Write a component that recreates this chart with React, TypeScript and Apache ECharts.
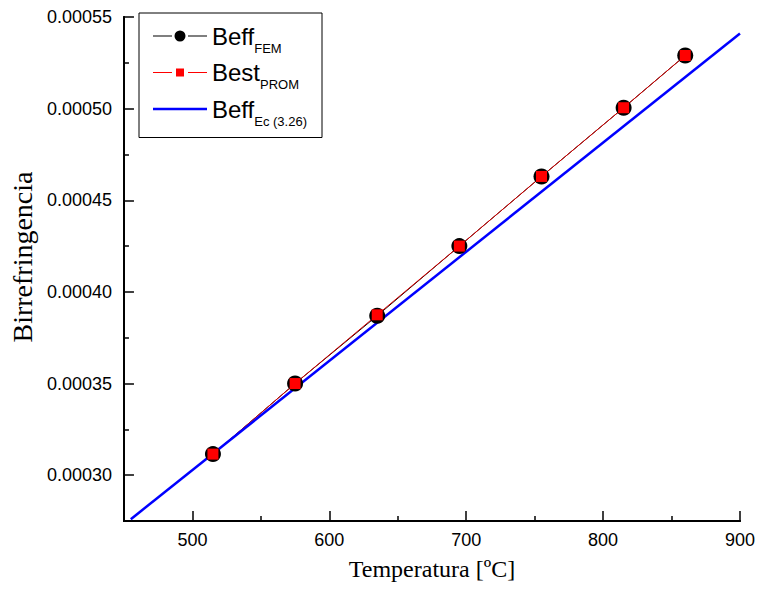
import React, { useEffect, useRef } from "react";
import * as echarts from "echarts";

const temps = [515, 575, 635, 695, 755, 815, 860];
const beffFEM = [0.0003115, 0.00035, 0.000387, 0.000425, 0.000463, 0.0005005, 0.000529];
const bestPROM = [0.0003115, 0.00035, 0.0003875, 0.000425, 0.000463, 0.0005005, 0.000529];
const ecTemps = [455, 900];
const ecValues = [0.000276, 0.000541];

const xMajor = [500, 600, 700, 800, 900];
const xMinor = [550, 650, 750, 850];
const yMajor = [0.0003, 0.00035, 0.0004, 0.00045, 0.0005, 0.00055];
const yMinor = [0.000325, 0.000375, 0.000425, 0.000475, 0.000525];

const legendLabels: Record<string, [string, string]> = {
  Beff_FEM: ["Beff", "FEM"],
  Best_PROM: ["Best", "PROM"],
  Beff_Ec: ["Beff", "Ec (3.26)"],
};

const SANS = "Liberation Sans, Arial, sans-serif";
const SERIF = "Liberation Serif, Times New Roman, serif";

const segs = "M0,6.5 L19,6.5 L19,7.5 L0,7.5 Z M35,6.5 L54,6.5 L54,7.5 L35,7.5 Z";
const iconFEM = `path://${segs} M32.5,7 A5.5,5.5 0 1,1 21.5,7 A5.5,5.5 0 1,1 32.5,7 Z`;
const iconPROM = `path://${segs} M23,3 L31,3 L31,11 L23,11 Z`;
const iconEc = "path://M0,5.75 L54,5.75 L54,8.25 L0,8.25 Z";

export default function App() {
  const ref = useRef<HTMLDivElement>(null);
  useEffect(() => {
    if (!ref.current) return;
    const chart = echarts.init(ref.current, null, { renderer: "svg" });
    const axisLine = { show: true, lineStyle: { color: "#000", width: 2 } };
    const xBase = {
      type: "value",
      min: 450,
      max: 900,
      position: "bottom",
      splitLine: { show: false },
      axisLine,
    };
    const yBase = {
      type: "value",
      min: 0.000275,
      max: 0.00055,
      position: "left",
      splitLine: { show: false },
      axisLine,
    };
    chart.setOption({
      animation: false,
      backgroundColor: "#fff",
      grid: { left: 122, right: 17, top: 17, bottom: 68, containLabel: false },
      legend: {
        orient: "vertical",
        left: 139,
        top: 13,
        padding: [11, 15, 10, 14],
        borderColor: "#000",
        borderWidth: 1,
        itemWidth: 54,
        itemHeight: 14,
        itemGap: 6,
        symbolKeepAspect: true,
        data: [
          { name: "Beff_FEM", icon: iconFEM },
          { name: "Best_PROM", icon: iconPROM },
          { name: "Beff_Ec", icon: iconEc },
        ],
        formatter: (name: string) => {
          const l = legendLabels[name];
          return `{b|${l[0]}}{s|${l[1]}}`;
        },
        textStyle: {
          fontFamily: SANS,
          color: "#000",
          rich: {
            b: { fontSize: 24, fontFamily: SANS, color: "#000" },
            s: { fontSize: 13, fontFamily: SANS, color: "#000", padding: [24, 0, 0, 0] },
          },
        },
      },
      xAxis: [
        {
          ...xBase,
          name: "Temperatura [ºC]",
          nameLocation: "middle",
          nameGap: 36,
          nameTextStyle: { fontFamily: SERIF, fontSize: 24, color: "#000" },
          axisTick: {
            show: true,
            inside: true,
            length: 10,
            customValues: xMajor,
            lineStyle: { color: "#000", width: 1.5 },
          },
          axisLabel: {
            show: true,
            customValues: xMajor,
            margin: 10,
            fontFamily: SANS,
            fontSize: 18,
            color: "#000",
          },
        },
        {
          ...xBase,
          axisTick: {
            show: true,
            inside: true,
            length: 5,
            customValues: xMinor,
            lineStyle: { color: "#000", width: 1.5 },
          },
          axisLabel: { show: false },
        },
      ],
      yAxis: [
        {
          ...yBase,
          name: "Birrefringencia",
          nameLocation: "middle",
          nameGap: 84,
          nameTextStyle: {
            fontFamily: SERIF,
            fontSize: 28,
            color: "#000",
            padding: [0, 0, 0, 24],
          },
          axisTick: {
            show: true,
            inside: true,
            length: 10,
            customValues: yMajor,
            lineStyle: { color: "#000", width: 1.5 },
          },
          axisLabel: {
            show: true,
            customValues: yMajor,
            margin: 12,
            fontFamily: SANS,
            fontSize: 18,
            color: "#000",
            formatter: (v: number) => v.toFixed(5),
          },
        },
        {
          ...yBase,
          axisTick: {
            show: true,
            inside: true,
            length: 5,
            customValues: yMinor,
            lineStyle: { color: "#000", width: 1.5 },
          },
          axisLabel: { show: false },
        },
      ],
      series: [
        {
          name: "Beff_FEM",
          type: "line",
          xAxisIndex: 0,
          yAxisIndex: 0,
          data: temps.map((t, i) => [t, beffFEM[i]]),
          symbol: "circle",
          symbolSize: 16,
          itemStyle: { color: "#000" },
          lineStyle: { color: "#000", width: 1 },
        },
        {
          name: "Best_PROM",
          type: "line",
          xAxisIndex: 0,
          yAxisIndex: 0,
          data: temps.map((t, i) => [t, bestPROM[i]]),
          symbol: "rect",
          symbolSize: 11,
          itemStyle: { color: "#ff0000" },
          lineStyle: { color: "#dd0000", width: 1 },
        },
        {
          name: "Beff_Ec",
          type: "line",
          xAxisIndex: 0,
          yAxisIndex: 0,
          data: ecTemps.map((t, i) => [t, ecValues[i]]),
          symbol: "none",
          lineStyle: { color: "#0000ff", width: 2.5 },
          itemStyle: { color: "#0000ff" },
          clip: true,
        },
      ],
    });
    return () => chart.dispose();
  }, []);
  return (
    <div
      ref={ref}
      style={{ position: "fixed", left: 0, top: 0, width: 758, height: 589 }}
    />
  );
}
